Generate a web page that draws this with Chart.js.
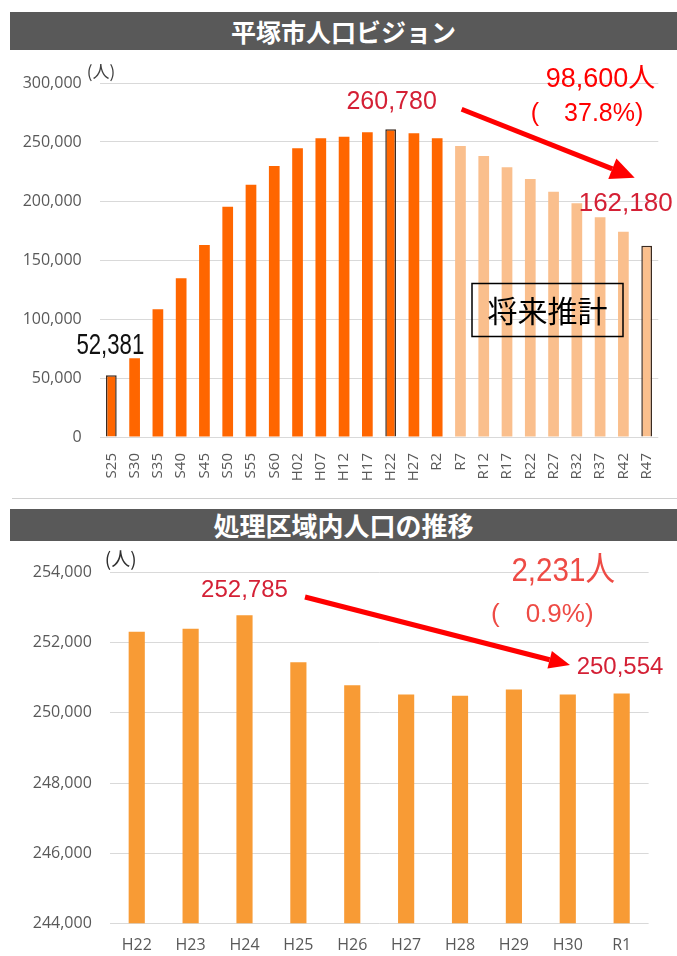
<!DOCTYPE html>
<html><head><meta charset="utf-8">
<script src="https://cdn.jsdelivr.net/npm/chart.js@4/dist/chart.umd.min.js"></script>
<style>
html,body{margin:0;padding:0;background:#fff;width:677px;height:956px;overflow:hidden;position:relative;font-family:'Noto Sans CJK JP',sans-serif;}
.bar{position:absolute;left:10px;width:667px;background:#595959;color:#fff;font-weight:bold;text-align:center;font-family:'Noto Sans CJK JP',sans-serif;}
#t1{top:12px;height:38px;line-height:38px;font-size:25px;}
#t2{top:509px;height:32px;line-height:32px;font-size:26px;}
#sep{position:absolute;left:12px;width:665px;top:498px;height:1px;background:#d0d0d0;}
#c1w{position:absolute;left:0;top:55px;}
#c2w{position:absolute;left:0;top:545px;}
</style></head><body>
<div id="t1" class="bar">平塚市人口ビジョン</div>
<div id="sep"></div>
<div id="t2" class="bar">処理区域内人口の推移</div>
<div id="c1w"><canvas id="c1" width="677" height="440"></canvas></div>
<div id="c2w"><canvas id="c2" width="677" height="411"></canvas></div>
<script>
// ---- data: 平塚市人口ビジョン ----
const yearsTop = ['S25','S30','S35','S40','S45','S50','S55','S60','H02','H07','H12','H17','H22','H27','R2','R7','R12','R17','R22','R27','R32','R37','R42','R47'];
const popTop = [52381,66800,108200,134500,162700,195200,213800,229700,244600,253100,254500,258200,260780,257400,253100,246600,238100,228500,218700,207900,198000,186200,174000,162180];
const firstProjected = 'R7';
const outlinedYears = ['S25','H22','R47'];
const yTicksTop = [0,50000,100000,150000,200000,250000,300000];

// ---- data: 処理区域内人口の推移 ----
const yearsBottom = ['H22','H23','H24','H25','H26','H27','H28','H29','H30','R1'];
const popBottom = [252310,252400,252785,251445,250790,250524,250487,250665,250524,250554];
const yTicksBottom = [244000,246000,248000,250000,252000,254000];

const fmt = v => Number(v).toLocaleString('en-US');
const TICKFONT = {family:"'Open Sans','Noto Sans',sans-serif", size:16};
const NUMF = "'Liberation Sans','Noto Sans CJK JP',sans-serif";

function txt(ctx, s, x, y, font, color, align, sx){
  ctx.save();
  ctx.font = font; ctx.fillStyle = color; ctx.textAlign = align||'center'; ctx.textBaseline='middle';
  ctx.translate(x,y); ctx.scale(sx||1,1);
  ctx.fillText(s,0,0);
  ctx.restore();
}
function arrow(ctx, x1,y1,x2,y2, lw, head, hw, color){
  const a = Math.atan2(y2-y1,x2-x1);
  const bx = x2 - Math.cos(a)*head, by = y2 - Math.sin(a)*head;
  ctx.save();
  ctx.strokeStyle=color; ctx.fillStyle=color; ctx.lineWidth=lw;
  ctx.beginPath(); ctx.moveTo(x1,y1); ctx.lineTo(bx,by); ctx.stroke();
  ctx.beginPath(); ctx.moveTo(x2,y2);
  ctx.lineTo(bx + Math.sin(a)*hw, by - Math.cos(a)*hw);
  ctx.lineTo(bx - Math.sin(a)*hw, by + Math.cos(a)*hw);
  ctx.closePath(); ctx.fill();
  ctx.restore();
}

const pIdx = yearsTop.indexOf(firstProjected);
const topColors = yearsTop.map((y,i)=> i<pIdx ? '#FF6600' : '#FABF8D');
const topBorder = yearsTop.map(y=> outlinedYears.includes(y) ? 1.5 : 0);

const annoTop = {
  id:'annoTop',
  afterDraw(chart){
    const ctx = chart.ctx, xs = chart.scales.x, ys = chart.scales.y, ca = chart.chartArea;
    const iS = yearsTop.indexOf('S25'), iH = yearsTop.indexOf('H22'), iR = yearsTop.indexOf('R47');
    const xS = xs.getPixelForValue(iS), yS = ys.getPixelForValue(popTop[iS]);
    const xH = xs.getPixelForValue(iH), yH = ys.getPixelForValue(popTop[iH]);
    const xR = xs.getPixelForValue(iR), yR = ys.getPixelForValue(popTop[iR]);
    txt(ctx,'(人)', ca.left-13, 17, "17px 'Noto Sans CJK JP'", '#404040','left');
    txt(ctx, fmt(popTop[iH]), xH+1, yH-27, "25px "+NUMF, '#D42035');
    txt(ctx, fmt(popTop[iS]), xS-1, yS-29, "30px "+NUMF, '#111111','center',0.74);
    txt(ctx, fmt(popTop[iR]), xR+26, yR-42, "26px "+NUMF, '#D42035','right');
    const diff = popTop[iH]-popTop[iR];
    txt(ctx, fmt(diff)+'人', ca.right-3, 25, "27px "+NUMF, '#FF0000','right');
    txt(ctx, '(\u3000'+(diff/popTop[iH]*100).toFixed(1)+'%)', ca.right-15, 59, "25px "+NUMF, '#FF0000','right');
    arrow(ctx, xH+71, yH-20, xR-12, yR-68, 5, 24, 11, '#FF0000');
    // 将来推計 box
    ctx.save();
    ctx.strokeStyle='#000'; ctx.lineWidth=1.5;
    ctx.strokeRect(472, 228.5, 151, 53);
    ctx.restore();
    txt(ctx,'将来推計', 547.5, 256, "30px 'Noto Sans CJK JP'", '#000');
  }
};

new Chart(document.getElementById('c1'), {
  type:'bar',
  data:{labels:yearsTop, datasets:[{data:popTop, backgroundColor:topColors, borderColor:'#3A2A20', borderWidth:topBorder, barPercentage:0.46, categoryPercentage:1}]},
  options:{
    responsive:false, devicePixelRatio:1, animation:false,
    layout:{padding:{top:28,right:18.7,left:0,bottom:0}},
    plugins:{legend:{display:false}, tooltip:{enabled:false}},
    scales:{
      x:{grid:{display:false}, border:{display:false},
         ticks:{autoSkip:false, minRotation:90, maxRotation:90, padding:8, color:'#595959', font:{family:TICKFONT.family,size:15}},
         afterFit(s){s.height=58;}},
      y:{min:yTicksTop[0], max:yTicksTop[yTicksTop.length-1],
         afterBuildTicks(s){s.ticks = yTicksTop.map(v=>({value:v}));},
         grid:{color:'#D9D9D9', drawTicks:false, lineWidth:1}, border:{display:false},
         ticks:{padding:18, color:'#595959', font:TICKFONT, callback:v=>fmt(v)},
         afterFit(s){s.width=99.7;}}
    }
  },
  plugins:[annoTop]
});

const annoBottom = {
  id:'annoBottom',
  afterDraw(chart){
    const ctx = chart.ctx, xs = chart.scales.x, ys = chart.scales.y, ca = chart.chartArea;
    const iMax = popBottom.indexOf(Math.max(...popBottom)), iL = popBottom.length-1;
    const xM = xs.getPixelForValue(iMax), yM = ys.getPixelForValue(popBottom[iMax]);
    const xL = xs.getPixelForValue(iL), yL = ys.getPixelForValue(popBottom[iL]);
    txt(ctx,'(人)', ca.left-5, 14, "19px 'Noto Sans CJK JP'", '#303030','left');
    txt(ctx, fmt(popBottom[iMax]), xM, yM-25, "24px "+NUMF, '#D42035');
    txt(ctx, fmt(popBottom[iL]), xL-45, 122, "24px "+NUMF, '#D42035','left');
    const diff = popBottom[iMax]-popBottom[iL];
    txt(ctx, fmt(diff)+'人', 615, 27, "34px "+NUMF, '#EE4B45','right',0.87);
    txt(ctx, '(\u3000'+(diff/popBottom[iMax]*100).toFixed(1)+'%)', 491, 70, "26px "+NUMF, '#EE4B45','left');
    arrow(ctx, 305, 52, 570, 120, 5, 21, 9, '#FF0000');
  }
};

new Chart(document.getElementById('c2'), {
  type:'bar',
  data:{labels:yearsBottom, datasets:[{data:popBottom, backgroundColor:'#F89B35', barPercentage:0.3, categoryPercentage:1}]},
  options:{
    responsive:false, devicePixelRatio:1, animation:false,
    layout:{padding:{top:23.3,right:28.4,left:0,bottom:0}},
    plugins:{legend:{display:false}, tooltip:{enabled:false}},
    scales:{
      x:{grid:{display:false}, border:{display:false},
         ticks:{autoSkip:false, maxRotation:0, padding:5, color:'#595959', font:TICKFONT},
         afterFit(s){s.height=32.7;}},
      y:{min:yTicksBottom[0], max:yTicksBottom[yTicksBottom.length-1],
         afterBuildTicks(s){s.ticks = yTicksBottom.map(v=>({value:v}));},
         grid:{color:'#D9D9D9', drawTicks:false}, border:{display:false},
         ticks:{padding:18, color:'#595959', font:TICKFONT, callback:v=>fmt(v)},
         afterFit(s){s.width=109.8;}}
    }
  },
  plugins:[annoBottom]
});
</script>
</body></html>
